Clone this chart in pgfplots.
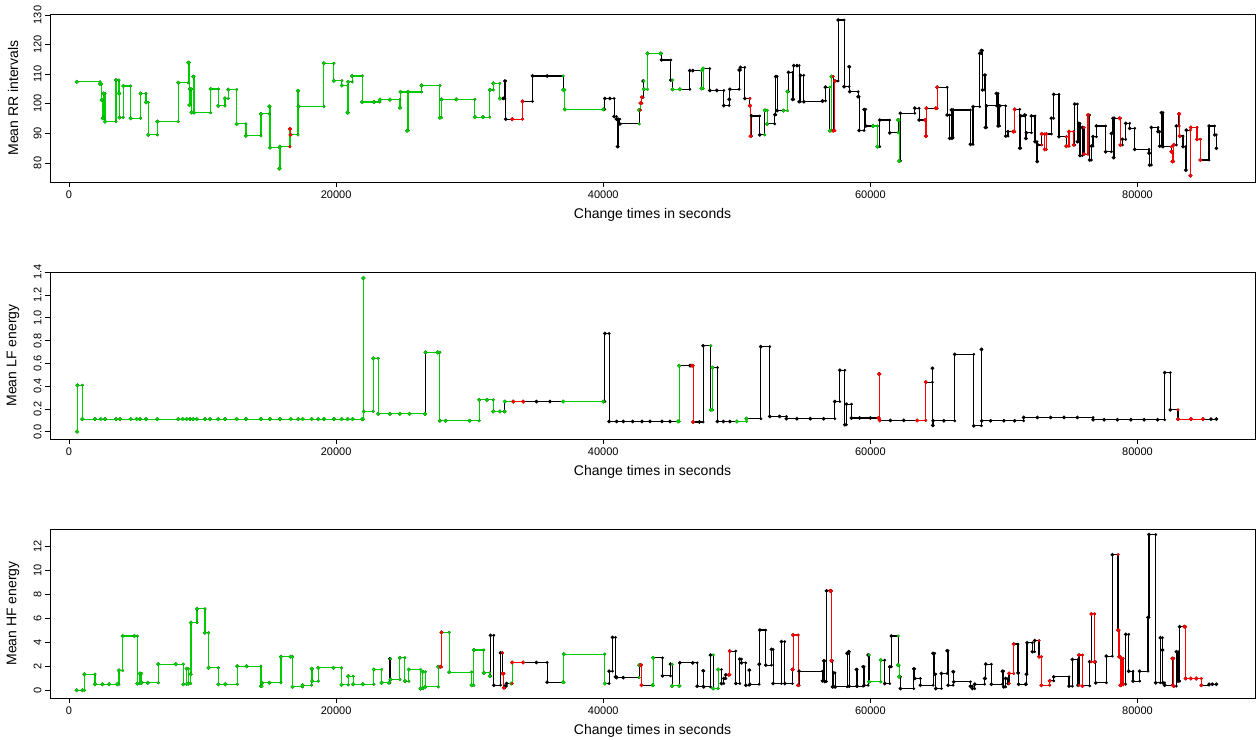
\documentclass[border=0pt]{standalone}
\usepackage{fontspec}
\setmainfont{Liberation Sans}
\usepackage{pgfplots}
\usepackage{pgfplotstable}
\pgfplotsset{compat=1.18}
\definecolor{grn}{RGB}{0,205,0}
\definecolor{rd}{RGB}{255,0,0}

% change times (s) and segment means
\pgfplotstableread{
t v
574 107.4
2320 106.7
2445 101.3
2520 95.1
2595 103.5
2695 94.0
3518 108.0
3743 103.5
3792 95.4
4067 106.0
4616 95.1
5364 103.5
5763 100.5
5938 89.5
6612 94.0
8184 107.1
8932 113.9
9007 99.6
9057 105.0
9182 97.1
9306 109.2
9356 97.0
10604 105.0
11178 99.3
11677 101.8
11926 104.8
12550 93.2
13248 89.2
14371 96.6
14995 99.1
15045 85.2
15744 78.1
15793 85.5
16542 91.5
16592 89.5
17141 104.4
17190 99.1
19087 113.7
19835 107.8
20434 106.2
20858 97.0
20908 107.4
21200 109.4
21956 100.6
22829 100.6
23278 101.4
24027 101.4
24775 98.7
24825 104.0
25324 90.9
25399 104.0
26397 106.2
27770 95.3
27894 101.5
29000 101.5
30389 95.5
31000 95.5
31512 104.7
31761 106.9
32260 101.8
32510 101.8
32635 107.7
32700 94.8
33183 94.8
33957 100.8
34705 109.4
35800 109.4
37000 104.7
37125 98.1
40000 98.1
40119 101.8
40500 101.8
40818 95.7
40992 94.8
41067 85.5
41117 94.8
41242 93.2
42689 97.9
42789 100.2
42889 102.2
42989 107.7
43039 104.9
43313 117.0
44300 117.0
44362 114.8
45061 108.0
45185 104.9
45734 104.9
46483 111.2
46700 111.2
47356 105.2
47481 111.9
47980 104.5
48500 104.5
49028 99.4
49427 101.5
49477 104.9
50176 111.4
50276 112.3
50600 101.8
50975 99.4
51025 89.1
51100 95.9
51723 89.5
52097 97.8
52272 93.2
52846 96.3
52921 109.2
53020 97.7
53500 97.7
53794 104.1
53869 110.6
54168 101.5
54268 112.9
54500 112.9
54667 100.7
54767 109.6
55016 100.7
56413 101.0
56638 105.6
56962 90.9
57087 109.2
57212 90.9
57337 107.7
57586 128.3
58035 105.8
58409 112.5
58459 104.1
59083 102.4
59158 91.0
59532 98.1
59657 92.5
60200 92.5
60530 85.5
60705 94.5
61454 90.2
62077 94.5
62152 80.7
62252 96.8
63325 98.5
63649 94.5
64100 94.5
64148 89.1
64200 98.5
64900 98.5
64997 105.6
65745 96.2
65944 88.3
66069 97.9
66150 88.5
66193 97.9
67490 86.3
67690 99.0
68189 117.0
68314 118.0
68400 104.7
68563 109.7
68613 92.0
68700 99.3
69437 103.5
69561 92.5
69686 99.3
70135 89.1
70310 90.6
70700 90.6
70809 98.1
71183 85.0
71258 95.9
71557 96.2
71632 88.3
71682 90.2
72056 95.9
72331 87.2
72480 80.5
72530 86.1
72830 89.8
73054 84.6
73179 89.8
73553 95.1
73728 103.2
74127 88.9
74676 85.7
74876 90.6
75225 86.1
75300 99.9
75500 87.2
75600 93.4
75700 82.5
75874 92.0
76000 83.0
76298 96.2
76423 81.0
76550 85.7
76672 88.9
76922 92.5
77620 83.8
78045 90.0
78169 95.1
78200 81.8
78250 95.1
78668 95.1
78718 86.1
78868 88.0
79118 93.4
79417 91.7
79791 84.6
80864 83.3
80914 79.3
81039 92.0
81538 90.6
81663 85.7
81787 97.0
81912 85.5
82536 83.8
82611 80.5
82711 86.1
82910 92.5
83110 96.6
83160 89.1
83409 85.5
83609 77.6
83659 91.1
83958 75.7
84000 92.0
84457 88.0
84707 81.0
85356 92.5
85780 89.5
85904 85.0
}\rrdata

\pgfplotstableread{
t v
600 0.0
624 0.408
998 0.111
1946 0.111
2370 0.111
2695 0.111
3518 0.111
3817 0.111
4616 0.111
5065 0.111
5314 0.111
5763 0.111
6612 0.111
8184 0.111
8508 0.111
8807 0.111
9057 0.111
9306 0.111
9556 0.111
10180 0.111
10554 0.111
11178 0.111
11677 0.111
12550 0.111
13248 0.111
14371 0.111
15045 0.111
15793 0.111
16592 0.111
17166 0.111
17490 0.111
18164 0.111
18663 0.111
19087 0.111
19835 0.111
20409 0.111
20858 0.111
21232 0.111
21956 0.111
22031 1.350
22081 0.178
22780 0.645
23154 0.157
24027 0.157
24775 0.157
25500 0.157
26650 0.157
26697 0.697
27600 0.697
27770 0.096
28200 0.096
30000 0.096
30714 0.280
31300 0.280
31761 0.178
32260 0.178
32600 0.178
32635 0.265
33258 0.265
34007 0.265
35000 0.265
36000 0.265
37000 0.265
40000 0.265
40119 0.863
40443 0.090
41000 0.090
41500 0.090
42200 0.090
42900 0.090
43500 0.090
44400 0.090
45000 0.090
45600 0.090
45684 0.580
46500 0.580
46650 0.580
46732 0.085
47200 0.085
47481 0.755
48054 0.192
48179 0.563
48553 0.090
49000 0.090
49477 0.090
50000 0.090
50725 0.114
51798 0.747
52471 0.134
53200 0.134
53719 0.114
54500 0.114
55500 0.114
56500 0.114
57337 0.265
57711 0.540
58085 0.061
58210 0.242
58584 0.120
59200 0.120
60000 0.120
60600 0.120
60655 0.507
60705 0.099
61500 0.099
62500 0.099
63500 0.099
64148 0.435
64647 0.557
64672 0.055
64697 0.096
65500 0.096
66318 0.680
67740 0.052
68314 0.723
68340 0.096
69000 0.096
70000 0.096
70800 0.096
71483 0.125
72500 0.125
73500 0.125
74500 0.125
75500 0.125
76672 0.105
77500 0.105
78500 0.105
79500 0.105
80500 0.105
81500 0.105
82037 0.519
82461 0.192
83035 0.111
84000 0.111
84907 0.111
85500 0.111
85904 0.111
}\lfdata

\pgfplotstableread{
t v
574 0.0
998 0.0
1148 1.34
1946 0.50
2500 0.50
3000 0.50
3600 0.50
3743 1.65
4017 4.53
4900 4.53
5115 0.56
5314 1.40
5439 0.62
5900 0.62
6687 2.18
8000 2.18
8558 0.50
8807 1.79
8932 0.56
9107 1.34
9132 5.65
9581 6.80
10180 4.81
10454 1.87
11178 0.50
11700 0.50
12600 2.01
13300 2.01
14371 0.34
14446 0.62
15000 0.62
15868 2.80
16600 2.80
16742 0.28
17490 0.42
18164 1.79
18214 0.76
18663 1.87
19800 1.87
20409 0.45
20908 1.17
21282 0.50
22000 0.50
22829 1.73
23403 0.62
23950 0.62
24027 2.63
24077 0.90
24775 2.71
25150 0.76
25449 1.73
26322 0.14
26497 1.54
26672 0.28
27645 1.96
27800 1.96
27894 4.84
28468 1.51
30140 0.42
30314 3.36
31063 1.45
31512 1.17
31562 4.59
31811 0.42
32310 3.13
32460 1.40
32560 0.20
32635 0.34
32760 0.56
33100 0.56
33183 2.32
34007 2.32
35000 2.32
35803 0.67
37000 0.67
37050 3.02
40119 0.56
40443 1.59
40693 4.42
40917 1.12
40992 1.06
41500 1.06
42689 2.10
42800 2.10
42864 0.42
43700 0.42
43737 2.71
44436 1.20
45035 2.18
45160 0.36
45700 0.36
45734 2.29
46700 2.29
47031 0.34
47481 1.62
47531 0.28
48030 2.94
48229 0.14
48603 1.73
48853 0.56
49028 0.98
49177 1.29
49400 1.29
49477 3.27
49926 0.56
50226 2.60
50351 2.29
50675 0.42
50925 1.68
50975 0.50
51673 2.18
51723 5.03
52172 2.10
52596 3.41
52721 0.56
53345 4.06
53594 0.56
54168 1.73
54190 1.73
54218 4.62
54592 0.42
54667 1.59
56413 0.78
56513 2.46
56588 0.73
56713 8.31
57000 8.31
57087 2.46
57162 0.28
57262 1.45
57362 0.28
58260 3.08
58384 3.22
58409 0.34
58958 1.73
59008 0.34
59457 1.96
59532 0.42
59832 2.94
59907 0.70
60780 2.52
61079 0.56
61454 1.96
61578 4.53
62077 2.10
62152 1.12
62252 0.14
63250 1.79
63325 0.98
63749 0.42
64697 3.08
64822 1.34
64900 0.14
65321 1.40
65745 3.30
65820 0.42
66194 1.54
66250 0.70
67490 0.34
67640 0.14
67815 0.50
68563 0.98
68638 2.18
69062 0.50
69886 1.59
69986 0.28
70135 0.98
70310 0.56
70385 1.40
70734 3.86
71058 1.45
71108 0.50
71632 0.50
71682 1.34
71732 3.97
72131 3.22
72306 4.14
72630 2.80
72805 0.42
73428 0.78
73728 1.12
74876 0.34
75125 2.57
75549 0.42
75624 2.94
75874 0.36
76423 2.38
76548 6.38
76797 2.38
76872 0.62
77670 2.85
78119 11.33
78543 5.03
78618 2.80
78718 0.42
78793 2.66
78918 0.50
79117 4.67
79342 1.59
79666 0.76
80165 1.59
80789 6.10
80864 13.01
81363 0.62
81713 4.39
81862 3.36
81900 0.62
82037 0.42
82611 2.66
82711 0.34
82910 3.22
83035 0.76
83160 5.31
83500 5.31
83609 0.98
84000 0.98
84400 0.98
84782 0.42
85356 0.50
85600 0.50
85904 0.50
}\hfdata

% column pv: the previous mean, so that each step also gets a dot where it ends
\newcommand{\addcorners}[1]{%
  \pgfplotstablecreatecol[create col/assign/.code={%
    \edef\pv{\prevrow{v}}%
    \ifx\pv\empty\def\pv{nan}\fi
    \pgfkeyslet{/pgfplots/table/create col/next content}\pv}]{pv}#1}
\addcorners{\rrdata}
\addcorners{\lfdata}
\addcorners{\hfdata}

\pgfplotsset{
  rplot/.style={
    scale only axis, width=1205pt,
    xmin=-1422, xmax=88800,
    scaled x ticks=false, scaled y ticks=false,
    axis line style={black, line width=0.8pt},
    tick align=outside, xtick pos=bottom, ytick pos=left,
    major tick length=5pt, tick style={black, line width=0.8pt},
    xtick={0,20000,40000,60000,80000},
    xticklabels={0,20000,40000,60000,80000},
    ticklabel style={font=\fontsize{11}{13}\selectfont},
    yticklabel style={rotate=90, anchor=south},
    every axis x label/.style={at={(axis description cs:0.5,0)}, anchor=center,
      yshift=-33pt, font=\fontsize{14}{16}\selectfont},
    every axis y label/.style={at={(axis description cs:-0.0307,0.5)}, rotate=90,
      anchor=center, font=\fontsize{14}{16}\selectfont},
    xlabel={Change times in seconds},
  },
  stp/.style={const plot, mark=*, mark size=1.2pt, line width=1.15pt, mark options={solid}},
  dots/.style={only marks, mark=*, mark size=1.2pt},
}
% one coloured stretch of a step series: colour, t-range, table
\newcommand{\seg}[3]{%
  \addplot[stp, #1, restrict x to domain=#2] table[x=t, y=v] {#3};
  \addplot[dots, #1, restrict x to domain=#2] table[x=t, y=pv] {#3};}
\newcommand{\base}[1]{%
  \addplot[stp, black] table[x=t, y=v] {#1};
  \addplot[dots, black] table[x=t, y=pv] {#1};}

\begin{document}
\begin{tikzpicture}
\useasboundingbox (0pt,0pt) rectangle (1258pt,739pt);

\begin{axis}[rplot, at={(50pt,557pt)}, anchor=south west, height=168pt,
  ymin=73.58, ymax=130.34,
  ytick={80,90,100,110,120,130}, yticklabels={80,90,100,110,120,130},
  ylabel={Mean RR intervals}]
\base{\rrdata}
\seg{grn}{574:32260}{\rrdata}
\seg{grn}{37000:40000}{\rrdata}
\seg{grn}{42689:42789}{\rrdata}
\seg{grn}{43039:44300}{\rrdata}
\seg{grn}{45185:45734}{\rrdata}
\seg{grn}{47356:47481}{\rrdata}
\seg{grn}{52097:52272}{\rrdata}
\seg{grn}{53500:53794}{\rrdata}
\seg{grn}{56962:57087}{\rrdata}
\seg{grn}{60200:60530}{\rrdata}
\seg{grn}{62077:62152}{\rrdata}
\seg{rd}{16542:16592}{\rrdata}
\seg{rd}{33183:33957}{\rrdata}
\seg{rd}{42789:42889}{\rrdata}
\seg{rd}{50975:51025}{\rrdata}
\seg{rd}{57212:57337}{\rrdata}
\seg{rd}{64100:64200}{\rrdata}
\seg{rd}{64900:64997}{\rrdata}
\seg{rd}{70700:70809}{\rrdata}
\seg{rd}{72830:73179}{\rrdata}
\seg{rd}{74676:75225}{\rrdata}
\seg{rd}{76000:76298}{\rrdata}
\seg{rd}{78668:78718}{\rrdata}
\seg{rd}{82536:82711}{\rrdata}
\seg{rd}{83110:83160}{\rrdata}
\seg{rd}{83958:84707}{\rrdata}
\end{axis}

\begin{axis}[rplot, at={(50pt,300pt)}, anchor=south west, height=167pt,
  ymin=-0.064, ymax=1.403,
  ytick={0,0.2,0.4,0.6,0.8,1.0,1.2,1.4},
  yticklabels={0.0,0.2,0.4,0.6,0.8,1.0,1.2,1.4},
  ylabel={Mean LF energy}]
\base{\lfdata}
\seg{grn}{600:26650}{\lfdata}
\seg{grn}{26697:32600}{\lfdata}
\seg{grn}{32635:33258}{\lfdata}
\seg{grn}{37000:40000}{\lfdata}
\seg{grn}{45600:45684}{\lfdata}
\seg{grn}{48054:48179}{\lfdata}
\seg{grn}{50000:50725}{\lfdata}
\seg{rd}{33258:34007}{\lfdata}
\seg{rd}{46650:46732}{\lfdata}
\seg{rd}{60600:60705}{\lfdata}
\seg{rd}{63500:64148}{\lfdata}
\seg{rd}{83035:84907}{\lfdata}
\end{axis}

\begin{axis}[rplot, at={(50pt,41pt)}, anchor=south west, height=169pt,
  ymin=-0.65, ymax=13.48,
  ytick={0,2,4,6,8,10,12}, yticklabels={0,2,4,6,8,10,12},
  ylabel={Mean HF energy}]
\base{\hfdata}
\seg{grn}{574:23950}{\hfdata}
\seg{grn}{24077:27800}{\hfdata}
\seg{grn}{27894:31512}{\hfdata}
\seg{grn}{33100:33183}{\hfdata}
\seg{grn}{37000:40119}{\hfdata}
\seg{grn}{42689:42800}{\hfdata}
\seg{grn}{43700:43737}{\hfdata}
\seg{grn}{45160:45700}{\hfdata}
\seg{grn}{48229:48603}{\hfdata}
\seg{grn}{59907:60780}{\hfdata}
\seg{grn}{62077:62152}{\hfdata}
\seg{rd}{27800:27894}{\hfdata}
\seg{rd}{32460:32560}{\hfdata}
\seg{rd}{33183:34007}{\hfdata}
\seg{rd}{42800:42864}{\hfdata}
\seg{rd}{49400:49477}{\hfdata}
\seg{rd}{54190:54592}{\hfdata}
\seg{rd}{57000:57087}{\hfdata}
\seg{rd}{70385:70734}{\hfdata}
\seg{rd}{72630:73428}{\hfdata}
\seg{rd}{75624:75874}{\hfdata}
\seg{rd}{76548:76797}{\hfdata}
\seg{rd}{78543:78918}{\hfdata}
\seg{rd}{82611:82711}{\hfdata}
\seg{rd}{83500:84782}{\hfdata}
\end{axis}
\end{tikzpicture}
\end{document}
